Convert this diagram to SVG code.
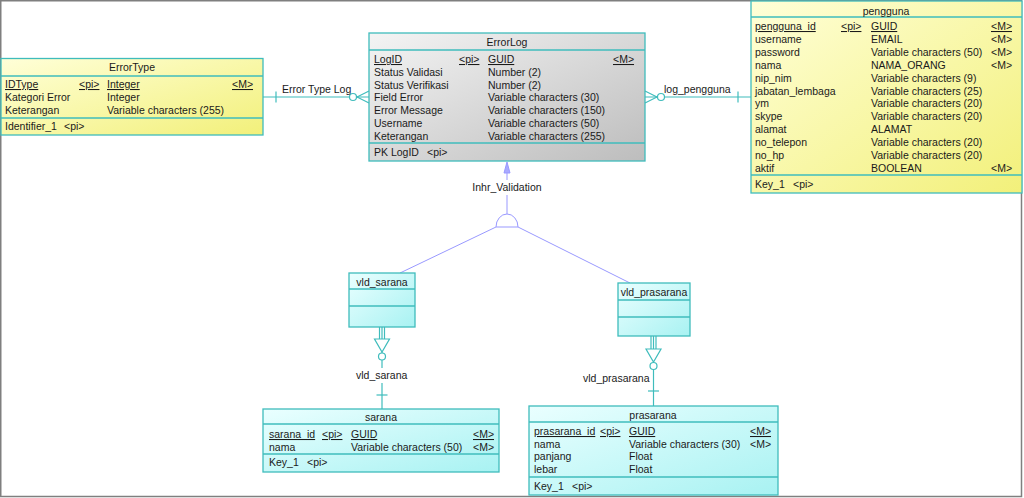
<svg xmlns="http://www.w3.org/2000/svg" width="1024" height="498" viewBox="0 0 1024 498">
<defs>
<linearGradient id="gy" x1="0" y1="0" x2="1" y2="1"><stop offset="0" stop-color="#ffffd8"/><stop offset="1" stop-color="#f2f07a"/></linearGradient>
<linearGradient id="gg" x1="0" y1="0" x2="1" y2="1"><stop offset="0" stop-color="#f4f4f4"/><stop offset="1" stop-color="#bdbdbd"/></linearGradient>
<linearGradient id="gc" x1="0" y1="0" x2="1" y2="1"><stop offset="0" stop-color="#eaffff"/><stop offset="1" stop-color="#a8f2f2"/></linearGradient>
<style>
.box{stroke:#3fbcbc;stroke-width:1.3}
.sep{stroke:#3fbcbc;stroke-width:1.3}
text{font-family:"Liberation Sans",Arial,sans-serif;font-size:10.5px;fill:#1a1a1a}
.t{text-anchor:middle}
.u{text-decoration:underline}
.c{stroke:#3fbcbc;stroke-width:1.2;fill:none}
.ci{stroke:#3fbcbc;stroke-width:1.2;fill:#fff}
.inh{stroke:#9999ff;stroke-width:1;fill:none}
</style>
</defs>
<rect x="0.75" y="0.75" width="1020.75" height="495.75" fill="#fff" stroke="#7f7f7f" stroke-width="1.5"/>

<g id="connectors">
  <!-- Error Type Log -->
  <line class="c" x1="263" y1="97" x2="369" y2="97"/>
  <line class="c" x1="276" y1="91.5" x2="276" y2="102.5"/>
  <line class="c" x1="357" y1="97" x2="369" y2="91"/>
  <line class="c" x1="357" y1="97" x2="369" y2="103"/>
  <circle class="ci" cx="353" cy="97" r="3.5"/>
  <text x="282" y="93">Error Type Log</text>
  <!-- log_pengguna -->
  <line class="c" x1="645" y1="97" x2="751" y2="97"/>
  <line class="c" x1="645" y1="91" x2="657" y2="97"/>
  <line class="c" x1="645" y1="103" x2="657" y2="97"/>
  <circle class="ci" cx="661" cy="97" r="3.5"/>
  <line class="c" x1="738" y1="91.5" x2="738" y2="102.5"/>
  <text x="664" y="93">log_pengguna</text>
  <!-- inheritance -->
  <polygon points="507,162 504,173 510,173" fill="#aaaaff" stroke="#9999ff" stroke-width="1"/>
  <line class="inh" x1="507" y1="173" x2="507" y2="180"/>
  <text class="t" x="507" y="191">Inhr_Validation</text>
  <line class="inh" x1="507" y1="195" x2="507" y2="214"/>
  <path class="inh" d="M496,227 A11,13 0 0 1 518,227 Z"/>
  <line class="inh" x1="496" y1="227" x2="400" y2="273"/>
  <line class="inh" x1="518" y1="227" x2="630" y2="283"/>
  <!-- vld_sarana -> sarana -->
  <line class="c" x1="379.5" y1="327" x2="379.5" y2="339"/>
  <line class="c" x1="382" y1="327" x2="382" y2="339"/>
  <line class="c" x1="384.5" y1="327" x2="384.5" y2="339"/>
  <polygon class="c" points="374.5,339 389.5,339 382,352"/>
  <line class="c" x1="382" y1="352" x2="382" y2="353"/>
  <circle class="ci" cx="382" cy="356.5" r="3.5"/>
  <line class="c" x1="382" y1="360" x2="382" y2="368"/>
  <text x="356" y="379">vld_sarana</text>
  <line class="c" x1="382" y1="383" x2="382" y2="409"/>
  <line class="c" x1="376.5" y1="395" x2="387.5" y2="395"/>
  <!-- vld_prasarana -> prasarana -->
  <line class="c" x1="651" y1="336" x2="651" y2="349"/>
  <line class="c" x1="653.5" y1="336" x2="653.5" y2="349"/>
  <line class="c" x1="656" y1="336" x2="656" y2="349"/>
  <polygon class="c" points="646,349 661,349 653.5,362"/>
  <circle class="ci" cx="653.5" cy="366" r="3.5"/>
  <line class="c" x1="653.5" y1="369.5" x2="653.5" y2="406"/>
  <line class="c" x1="648" y1="391" x2="659" y2="391"/>
  <text x="583" y="382">vld_prasarana</text>
</g>

<g id="ErrorType">
  <rect class="box" x="1" y="58.5" width="262" height="76.5" fill="url(#gy)"/>
  <line class="sep" x1="1" y1="76" x2="263" y2="76"/>
  <line class="sep" x1="1" y1="118" x2="263" y2="118"/>
  <text class="t" x="132" y="71">ErrorType</text>
  <text class="u" x="5" y="88">IDType</text><text class="u" x="79" y="88">&lt;pi&gt;</text><text class="u" x="107" y="88">Integer</text><text class="u" x="232" y="88">&lt;M&gt;</text>
  <text x="5" y="101">Kategori Error</text><text x="107" y="101">Integer</text>
  <text x="5" y="113.5">Keterangan</text><text x="107" y="113.5">Variable characters (255)</text>
  <text x="5" y="130">Identifier_1</text><text x="64" y="130">&lt;pi&gt;</text>
</g>

<g id="ErrorLog">
  <rect class="box" x="369" y="33" width="276" height="128" fill="url(#gg)"/>
  <line class="sep" x1="369" y1="50" x2="645" y2="50"/>
  <line class="sep" x1="369" y1="143" x2="645" y2="143"/>
  <text class="t" x="507" y="46">ErrorLog</text>
  <text class="u" x="374" y="63">LogID</text><text class="u" x="459" y="63">&lt;pi&gt;</text><text class="u" x="488" y="63">GUID</text><text class="u" x="613" y="63">&lt;M&gt;</text>
  <text x="374" y="75.8">Status Validasi</text><text x="488" y="75.8">Number (2)</text>
  <text x="374" y="88.6">Status Verifikasi</text><text x="488" y="88.6">Number (2)</text>
  <text x="374" y="101.4">Field Error</text><text x="488" y="101.4">Variable characters (30)</text>
  <text x="374" y="114.2">Error Message</text><text x="488" y="114.2">Variable characters (150)</text>
  <text x="374" y="127">Username</text><text x="488" y="127">Variable characters (50)</text>
  <text x="374" y="139.8">Keterangan</text><text x="488" y="139.8">Variable characters (255)</text>
  <text x="374" y="156">PK LogID</text><text x="427" y="156">&lt;pi&gt;</text>
</g>

<g id="pengguna">
  <rect class="box" x="751" y="1" width="271" height="192" fill="url(#gy)"/>
  <line class="sep" x1="751" y1="17" x2="1022" y2="17"/>
  <line class="sep" x1="751" y1="175" x2="1022" y2="175"/>
  <text class="t" x="886" y="14.5">pengguna</text>
  <text class="u" x="755" y="30">pengguna_id</text><text class="u" x="841" y="30">&lt;pi&gt;</text><text class="u" x="871" y="30">GUID</text><text class="u" x="991" y="30">&lt;M&gt;</text>
  <text x="755" y="42.9">username</text><text x="871" y="42.9">EMAIL</text><text x="991" y="42.9">&lt;M&gt;</text>
  <text x="755" y="55.8">password</text><text x="871" y="55.8">Variable characters (50)</text><text x="991" y="55.8">&lt;M&gt;</text>
  <text x="755" y="68.7">nama</text><text x="871" y="68.7">NAMA_ORANG</text><text x="991" y="68.7">&lt;M&gt;</text>
  <text x="755" y="81.6">nip_nim</text><text x="871" y="81.6">Variable characters (9)</text>
  <text x="755" y="94.5">jabatan_lembaga</text><text x="871" y="94.5">Variable characters (25)</text>
  <text x="755" y="107.4">ym</text><text x="871" y="107.4">Variable characters (20)</text>
  <text x="755" y="120.3">skype</text><text x="871" y="120.3">Variable characters (20)</text>
  <text x="755" y="133.2">alamat</text><text x="871" y="133.2">ALAMAT</text>
  <text x="755" y="146.1">no_telepon</text><text x="871" y="146.1">Variable characters (20)</text>
  <text x="755" y="159">no_hp</text><text x="871" y="159">Variable characters (20)</text>
  <text x="755" y="171.9">aktif</text><text x="871" y="171.9">BOOLEAN</text><text x="991" y="171.9">&lt;M&gt;</text>
  <text x="755" y="188">Key_1</text><text x="793" y="188">&lt;pi&gt;</text>
</g>

<g id="vld_sarana">
  <rect class="box" x="349" y="273" width="66" height="54" fill="url(#gc)"/>
  <line class="sep" x1="349" y1="289" x2="415" y2="289"/>
  <line class="sep" x1="349" y1="306" x2="415" y2="306"/>
  <text class="t" x="382" y="286">vld_sarana</text>
</g>

<g id="vld_prasarana">
  <rect class="box" x="618" y="283" width="72" height="53" fill="url(#gc)"/>
  <line class="sep" x1="618" y1="300" x2="690" y2="300"/>
  <line class="sep" x1="618" y1="317" x2="690" y2="317"/>
  <text class="t" x="654" y="296">vld_prasarana</text>
</g>

<g id="sarana">
  <rect class="box" x="263" y="409" width="236" height="63" fill="url(#gc)"/>
  <line class="sep" x1="263" y1="424" x2="499" y2="424"/>
  <line class="sep" x1="263" y1="454" x2="499" y2="454"/>
  <text class="t" x="381" y="420.5">sarana</text>
  <text class="u" x="269" y="438">sarana_id</text><text class="u" x="322" y="438">&lt;pi&gt;</text><text class="u" x="351" y="438">GUID</text><text class="u" x="473" y="438">&lt;M&gt;</text>
  <text x="269" y="450.5">nama</text><text x="351" y="450.5">Variable characters (50)</text><text x="473" y="450.5">&lt;M&gt;</text>
  <text x="269" y="466">Key_1</text><text x="307" y="466">&lt;pi&gt;</text>
</g>

<g id="prasarana">
  <rect class="box" x="529" y="406" width="249" height="89" fill="url(#gc)"/>
  <line class="sep" x1="529" y1="422" x2="778" y2="422"/>
  <line class="sep" x1="529" y1="477" x2="778" y2="477"/>
  <text class="t" x="653" y="418.5">prasarana</text>
  <text class="u" x="534" y="435">prasarana_id</text><text class="u" x="600" y="435">&lt;pi&gt;</text><text class="u" x="629" y="435">GUID</text><text class="u" x="750" y="435">&lt;M&gt;</text>
  <text x="534" y="447.5">nama</text><text x="629" y="447.5">Variable characters (30)</text><text x="750" y="447.5">&lt;M&gt;</text>
  <text x="534" y="460">panjang</text><text x="629" y="460">Float</text>
  <text x="534" y="473">lebar</text><text x="629" y="473">Float</text>
  <text x="534" y="490">Key_1</text><text x="572" y="490">&lt;pi&gt;</text>
</g>
</svg>
